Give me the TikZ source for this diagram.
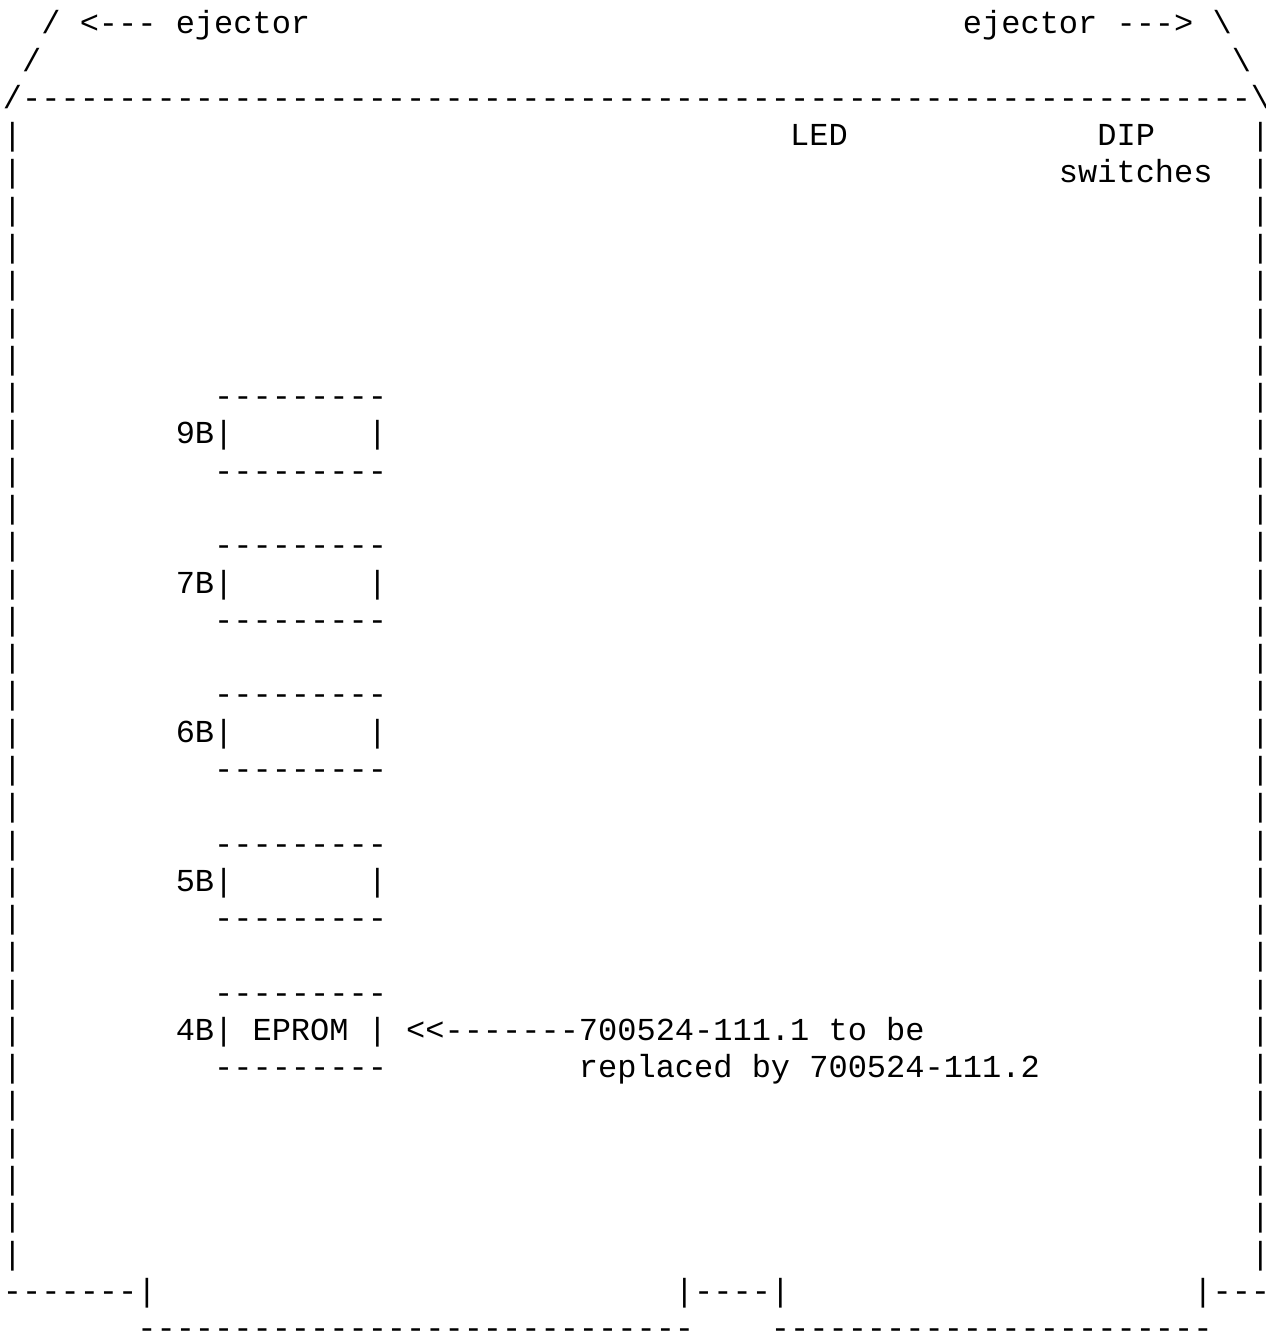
\documentclass[tikz,border=0pt]{standalone}
\usepackage{fontspec}
\setmonofont{Liberation Mono}
\usepackage{tikz}
\newcommand{\dashrun}[1]{\foreach\k in {1,...,#1}{-}}

\begin{document}
\begin{tikzpicture}[x=14.4pt, y=-27.96pt,
  asc/.style={font=\ttfamily\fontsize{24pt}{28pt}\selectfont,
    inner sep=0pt, outer sep=0pt, anchor=base west}]
  % one x unit = one character cell, one y unit = one text line (downwards)
  \useasboundingbox (-0.156,-0.908) rectangle (65.78,34.795);

  % ejectors and top edge of the board
  \node[asc] (ejL) at (2,0)  {/ <--- ejector};
  \node[asc] (ejR) at (50,0) {ejector ---> \textbackslash};
  \node[asc] (slL) at (1,1)  {/};
  \node[asc] (slR) at (64,1) {\textbackslash};
  \node[asc] (top) at (0,2)  {/\dashrun{64}\textbackslash};

  % side edges
  \foreach \r in {3,...,33} {
    \node[asc] (wallL-\r) at (0,\r)  {|};
    \node[asc] (wallR-\r) at (65,\r) {|};
  }

  % LED and DIP switches
  \node[asc] (led) at (41,3) {LED};
  \node[asc] (dip) at (57,3) {DIP};
  \node[asc] (sw)  at (55,4) {switches};

  % sockets
  \foreach \lbl/\r in {9B/10, 7B/14, 6B/18, 5B/22, 4B/26} {
    \node[asc] (\lbl-top) at (11,\r)   {\dashrun{9}};
    \node[asc] (\lbl)     at (9,\r+1)  {\lbl|};
    \node[asc] (\lbl-rt)  at (19,\r+1) {|};
    \node[asc] (\lbl-bot) at (11,\r+2) {\dashrun{9}};
  }
  \node[asc] (eprom) at (13,27) {EPROM};
  \node[asc] (note)  at (21,27) {<<\dashrun{7}700524-111.1 to be};
  \node[asc] (note2) at (30,28) {replaced by 700524-111.2};

  % bottom edge and connector fingers
  \node[asc] (finL)  at (0,34)  {\dashrun{7}|};
  \node[asc] (finM)  at (35,34) {|\dashrun{4}|};
  \node[asc] (finR)  at (62,34) {|\dashrun{3}};
  \node[asc] (edgeL) at (7,35)  {\dashrun{29}};
  \node[asc] (edgeR) at (40,35) {\dashrun{23}};
\end{tikzpicture}
\end{document}
